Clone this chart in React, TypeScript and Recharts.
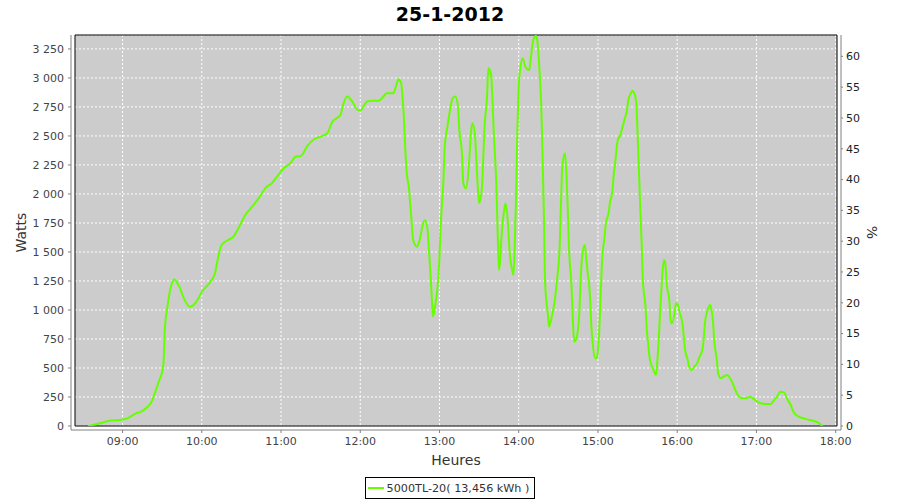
import React from "react";
import { LineChart, Line, XAxis, YAxis, CartesianGrid, ReferenceArea, Legend } from "recharts";

// readings of the 5000TL-20 inverter, 25-1-2012
const TIMES = [
    "08:34", "08:43", "08:50", "08:58", "09:03", "09:06", "09:10", "09:13", "09:19", "09:22",
    "09:25", "09:28", "09:29", "09:31", "09:32", "09:34", "09:37", "09:39", "09:43", "09:47",
    "09:51", "09:55", "10:01", "10:06", "10:10", "10:12", "10:15", "10:20", "10:24", "10:27",
    "10:29", "10:33", "10:37", "10:44", "10:48", "10:53", "10:58", "11:02", "11:07", "11:11",
    "11:15", "11:20", "11:25", "11:30", "11:35", "11:39", "11:42", "11:45", "11:47", "11:50",
    "11:54", "11:58", "12:00", "12:05", "12:08", "12:14", "12:17", "12:20", "12:25", "12:27",
    "12:29", "12:31", "12:32", "12:33", "12:34", "12:35", "12:37", "12:38", "12:39", "12:40",
    "12:43", "12:45", "12:47", "12:49", "12:51", "12:52", "12:53", "12:54", "12:55", "12:57",
    "12:59", "13:00", "13:01", "13:03", "13:04", "13:06", "13:08", "13:10", "13:12", "13:14",
    "13:15", "13:17", "13:18", "13:20", "13:22", "13:23", "13:24", "13:25", "13:27", "13:28",
    "13:29", "13:30", "13:32", "13:33", "13:34", "13:36", "13:37", "13:39", "13:40", "13:41",
    "13:43", "13:44", "13:45", "13:46", "13:47", "13:49", "13:50", "13:52", "13:53", "13:55",
    "13:56", "13:57", "13:58", "13:59", "14:00", "14:01", "14:03", "14:05", "14:08", "14:09",
    "14:11", "14:13", "14:14", "14:16", "14:17", "14:18", "14:19", "14:20", "14:22", "14:23",
    "14:25", "14:27", "14:29", "14:31", "14:32", "14:33", "14:35", "14:36", "14:37", "14:38",
    "14:40", "14:41", "14:42", "14:44", "14:46", "14:47", "14:48", "14:50", "14:51", "14:52",
    "14:54", "14:55", "14:56", "14:58", "14:59", "15:00", "15:01", "15:02", "15:03", "15:05",
    "15:06", "15:08", "15:09", "15:11", "15:12", "15:13", "15:14", "15:15", "15:17", "15:18",
    "15:20", "15:22", "15:23", "15:25", "15:26", "15:28", "15:29", "15:30", "15:31", "15:32",
    "15:33", "15:34", "15:36", "15:37", "15:38", "15:39", "15:40", "15:42", "15:44", "15:45",
    "15:46", "15:47", "15:48", "15:49", "15:50", "15:51", "15:52", "15:54", "15:55", "15:56",
    "15:58", "15:59", "16:01", "16:02", "16:04", "16:05", "16:06", "16:08", "16:09", "16:11",
    "16:13", "16:15", "16:17", "16:19", "16:20", "16:21", "16:23", "16:25", "16:26", "16:27",
    "16:28", "16:30", "16:31", "16:33", "16:35", "16:38", "16:40", "16:42", "16:44", "16:46",
    "16:49", "16:52", "16:55", "16:59", "17:03", "17:07", "17:11", "17:13", "17:16", "17:18",
    "17:21", "17:23", "17:26", "17:28", "17:32", "17:36", "17:40", "17:43", "17:47", "17:50",
];

const WATTS = [
    0, 23, 46, 52, 62, 80, 109, 118, 166, 209,
    300, 400, 425, 540, 828, 1028, 1215, 1265, 1201, 1086,
    1028, 1058, 1172, 1235, 1316, 1431, 1560, 1603, 1632, 1690,
    1733, 1819, 1876, 1977, 2049, 2092, 2164, 2221, 2264, 2321,
    2327, 2414, 2471, 2494, 2523, 2623, 2652, 2681, 2767, 2839,
    2796, 2724, 2718, 2796, 2804, 2804, 2833, 2868, 2868, 2925,
    2988, 2954, 2839, 2666, 2408, 2207, 2034, 1890, 1747, 1603,
    1546, 1603, 1718, 1776, 1690, 1517, 1345, 1144, 943, 1058,
    1259, 1460, 1747, 2121, 2408, 2580, 2724, 2825, 2839, 2752,
    2552, 2351, 2092, 2049, 2207, 2379, 2552, 2609, 2494, 2264,
    2063, 1920, 2034, 2264, 2552, 2839, 3083, 3040, 2839, 2552,
    2092, 1690, 1345, 1431, 1632, 1862, 1920, 1718, 1517, 1345,
    1302, 1575, 1977, 2552, 2925, 3069, 3169, 3097, 3069, 3155,
    3327, 3362, 3327, 3011, 2782, 2351, 1850, 1230, 971, 856,
    943, 1058, 1259, 1546, 1920, 2236, 2351, 2207, 1920, 1546,
    1201, 914, 727, 770, 1000, 1287, 1460, 1560, 1460, 1345,
    1115, 856, 713, 583, 583, 655, 828, 1115, 1402, 1632,
    1747, 1833, 1920, 2034, 2178, 2264, 2379, 2465, 2508, 2552,
    2637, 2724, 2810, 2868, 2890, 2853, 2782, 2523, 2207, 1890,
    1603, 1259, 1028, 828, 713, 597, 540, 483, 440, 569,
    741, 971, 1172, 1345, 1431, 1402, 1230, 1086, 914, 885,
    971, 1058, 1028, 971, 885, 770, 655, 569, 511, 483,
    511, 540, 597, 655, 741, 885, 1000, 1043, 1000, 914,
    741, 569, 454, 411, 425, 440, 411, 368, 310, 267,
    239, 239, 253, 224, 196, 190, 190, 218, 259, 296,
    290, 239, 181, 123, 80, 66, 52, 46, 28, 0,
];

const HOUR_TICKS = ["09:00", "10:00", "11:00", "12:00", "13:00", "14:00", "15:00", "16:00", "17:00", "18:00"];
const WATT_TICKS = [0, 250, 500, 750, 1000, 1250, 1500, 1750, 2000, 2250, 2500, 2750, 3000, 3250];
const PCT_TICKS = [0, 5, 10, 15, 20, 25, 30, 35, 40, 45, 50, 55, 60];

const TITLE = "25-1-2012";
const SERIES_NAME = "5000TL-20( 13,456 kWh )";

const X_MIN = 504; // minutes since midnight
const X_MAX = 1081;
const W_MAX = 3370;
const W_PER_PCT = 53.1;

const FONT = "'DejaVu Sans', sans-serif";
const AXIS_GRAY = "#808080";

const toMinutes = (t: string) => {
    const [h, m] = t.split(":").map(Number);
    return h * 60 + m;
};

const data = TIMES.map((t, i) => ({ t: toMinutes(t), watts: WATTS[i] }));

const fmtTime = (m: number) => `${String(Math.floor(m / 60)).padStart(2, "0")}:${String(m % 60).padStart(2, "0")}`;
const fmtWatts = (v: number) => String(v).replace(/\B(?=(\d{3})+(?!\d))/g, " ");

function AxisTitle({ viewBox, text, dx, rotate }: any) {
    if (!viewBox) return null;
    const x = viewBox.x + dx;
    const y = viewBox.y + viewBox.height / 2;
    return (
        <text
            transform={`translate(${x},${y}) rotate(${rotate})`}
            textAnchor="middle"
            dominantBaseline="central"
            fontSize={14}
            fill="#333"
            fontFamily={FONT}
        >
            {text}
        </text>
    );
}

function XTitle({ viewBox, text }: any) {
    if (!viewBox) return null;
    return (
        <text
            x={viewBox.x + viewBox.width / 2}
            y={viewBox.y + 35}
            textAnchor="middle"
            fontSize={14}
            fill="#333"
            fontFamily={FONT}
        >
            {text}
        </text>
    );
}

function LegendBox({ payload }: any) {
    return (
        <div style={{ display: "flex", justifyContent: "center" }}>
            <div
                style={{
                    display: "flex",
                    alignItems: "center",
                    height: 22,
                    boxSizing: "border-box",
                    border: "1px solid #000",
                    padding: "0 5px 0 2px",
                    fontSize: 11.2,
                    color: "#333",
                    fontFamily: FONT,
                    background: "#fff",
                }}
            >
                {(payload || []).map((p: any) => (
                    <React.Fragment key={p.value}>
                        <span style={{ display: "inline-block", width: 16, height: 2, background: p.color, marginRight: 3 }} />
                        <span>{p.value}</span>
                    </React.Fragment>
                ))}
            </div>
        </div>
    );
}

export default function App() {
    return (
        <div style={{ position: "absolute", left: 0, top: 0, width: 900, height: 500, background: "#fff", fontFamily: FONT }}>
            <div
                style={{
                    position: "absolute",
                    left: 0,
                    top: 0,
                    width: 900,
                    textAlign: "center",
                    fontWeight: "bold",
                    fontSize: 19,
                    lineHeight: "28px",
                    color: "#000",
                }}
            >
                {TITLE}
            </div>
            <LineChart width={900} height={500} data={data} margin={{ top: 35, right: 0, bottom: 1, left: 0 }}>
                <ReferenceArea
                    x1={X_MIN}
                    x2={X_MAX}
                    y1={0}
                    y2={W_MAX}
                    fill="#cccccc"
                    fillOpacity={1}
                    stroke="none"
                    zIndex={-200}
                />
                <CartesianGrid stroke="#ffffff" strokeDasharray="2 2" />
                <ReferenceArea
                    x1={X_MIN}
                    x2={X_MAX}
                    y1={0}
                    y2={W_MAX}
                    fill="none"
                    stroke="#000"
                    strokeWidth={1}
                    zIndex={-50}
                />
                <XAxis
                    dataKey="t"
                    type="number"
                    domain={[X_MIN, X_MAX]}
                    allowDataOverflow
                    ticks={HOUR_TICKS.map(toMinutes)}
                    tickFormatter={fmtTime}
                    padding={{ left: 4, right: 4 }}
                    height={47}
                    tickSize={3}
                    tickMargin={4}
                    stroke={AXIS_GRAY}
                    tick={{ fill: "#444", fontSize: 11, fontFamily: FONT }}
                    label={<XTitle text="Heures" />}
                />
                <YAxis
                    domain={[0, W_MAX]}
                    allowDataOverflow
                    ticks={WATT_TICKS}
                    tickFormatter={fmtWatts}
                    padding={{ top: 0, bottom: 4 }}
                    width={71}
                    tickSize={3}
                    tickMargin={4}
                    stroke={AXIS_GRAY}
                    tick={{ fill: "#444", fontSize: 11, fontFamily: FONT }}
                    label={<AxisTitle text="Watts" dx={21} rotate={-90} />}
                />
                <YAxis
                    yAxisId="pct"
                    orientation="right"
                    type="number"
                    domain={[0, W_MAX / W_PER_PCT]}
                    allowDataOverflow
                    ticks={PCT_TICKS}
                    padding={{ top: 0, bottom: 4 }}
                    width={59}
                    tickSize={2}
                    tickMargin={3}
                    stroke={AXIS_GRAY}
                    tick={{ fill: "#222", fontSize: 11, fontFamily: FONT }}
                    label={<AxisTitle text="%" dx={31} rotate={90} />}
                />
                <Legend verticalAlign="bottom" content={<LegendBox />} />
                <Line
                    type="monotone"
                    dataKey="watts"
                    name={SERIES_NAME}
                    stroke="#66ff00"
                    strokeWidth={2}
                    dot={false}
                    activeDot={false}
                    isAnimationActive={false}
                />
            </LineChart>
        </div>
    );
}
